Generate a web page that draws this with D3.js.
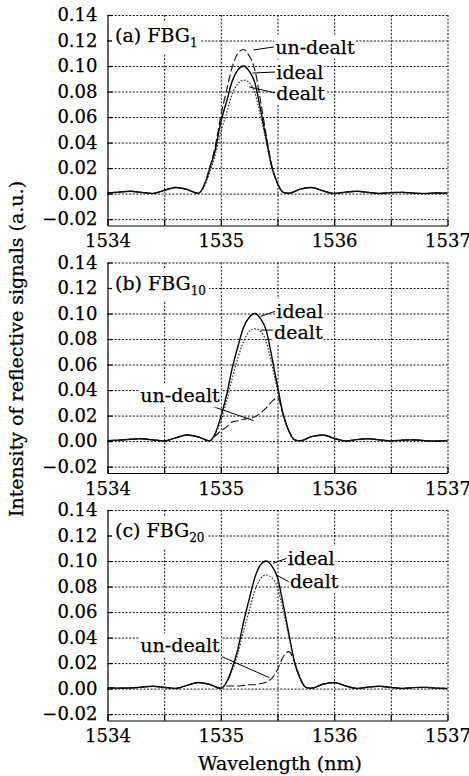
<!DOCTYPE html>
<html>
<head>
<meta charset="utf-8">
<script src="https://cdn.jsdelivr.net/npm/d3@7"></script>
<style>
  body { margin: 0; background: #fff; }
  svg { display: block; font-family: 'DejaVu Serif', serif; }
  svg text { stroke: #000; stroke-width: 0.25px; }
</style>
</head>
<body>
<svg id="chart"></svg>
<script>
const xLabelTicks = [1534, 1535, 1536, 1537];
const xGridTicks = [1534.5, 1535, 1535.5, 1536, 1536.5, 1537];
const yTickValues = [-0.02, 0, 0.02, 0.04, 0.06, 0.08, 0.10, 0.12, 0.14];

const panelNames = ['(a) FBG', '(b) FBG', '(c) FBG'];
const panelSubs = ['1', '10', '20'];

// (a) FBG1
const wlA = [1534.00, 1534.10, 1534.20, 1534.30, 1534.40, 1534.50, 1534.60, 1534.70, 1534.80, 1534.85,
  1534.90, 1534.95, 1535.00, 1535.05, 1535.10, 1535.15, 1535.20, 1535.25, 1535.30, 1535.35,
  1535.40, 1535.45, 1535.50, 1535.55, 1535.60, 1535.70, 1535.80, 1535.90, 1536.00, 1536.10,
  1536.20, 1536.30, 1536.40, 1536.50, 1536.60, 1536.70, 1536.80, 1536.90, 1537.00];
const idealA = [0.0005, 0.0012, 0.0018, 0.0010, 0.0001, 0.0025, 0.0048, 0.0033, 0.0002, 0.006,
  0.019, 0.034, 0.056, 0.072, 0.088, 0.097, 0.100, 0.096, 0.087, 0.066,
  0.043, 0.021, 0.008, 0.001, 0.0003, 0.0035, 0.0048, 0.0022, 0.0001, 0.0012,
  0.0018, 0.0010, 0.0001, 0.0008, 0.0010, 0.0004, 0.0001, 0.0005, 0.0004];
const undealtA = [0.0005, 0.0012, 0.0018, 0.0010, 0.0001, 0.0026, 0.0050, 0.0034, 0.0002, 0.006,
  0.020, 0.037, 0.061, 0.081, 0.099, 0.110, 0.113, 0.108, 0.097, 0.073,
  0.046, 0.022, 0.008, 0.001, 0.0003, 0.0036, 0.0050, 0.0022, 0.0001, 0.0012,
  0.0018, 0.0010, 0.0001, 0.0008, 0.0010, 0.0004, 0.0001, 0.0005, 0.0004];
const dealtA = [0.0005, 0.0012, 0.0018, 0.0010, 0.0001, 0.0024, 0.0046, 0.0032, 0.0002, 0.005,
  0.016, 0.030, 0.048, 0.063, 0.078, 0.086, 0.089, 0.087, 0.079, 0.061,
  0.041, 0.020, 0.008, 0.001, 0.0003, 0.0034, 0.0046, 0.0021, 0.0001, 0.0012,
  0.0017, 0.0010, 0.0001, 0.0008, 0.0010, 0.0004, 0.0001, 0.0005, 0.0004];

// (b) FBG10
const wlB = [1534.00, 1534.10, 1534.20, 1534.30, 1534.40, 1534.50, 1534.60, 1534.70, 1534.80, 1534.90,
  1534.95, 1535.00, 1535.05, 1535.10, 1535.15, 1535.20, 1535.25, 1535.30, 1535.35, 1535.40,
  1535.45, 1535.50, 1535.55, 1535.60, 1535.65, 1535.70, 1535.80, 1535.90, 1536.00, 1536.10,
  1536.20, 1536.30, 1536.40, 1536.50, 1536.60, 1536.70, 1536.80, 1536.90, 1537.00];
const idealB = [0.0004, 0.0008, 0.0014, 0.0018, 0.0010, 0.0001, 0.0025, 0.0048, 0.0033, 0.0002,
  0.006, 0.019, 0.036, 0.057, 0.074, 0.089, 0.097, 0.100, 0.096, 0.087,
  0.066, 0.043, 0.021, 0.008, 0.001, 0.0003, 0.0035, 0.0048, 0.0022, 0.0001,
  0.0012, 0.0018, 0.0010, 0.0001, 0.0008, 0.0010, 0.0004, 0.0001, 0.0005];
const undealtB = [0.0004, 0.0008, 0.0014, 0.0018, 0.0010, 0.0001, 0.0025, 0.0048, 0.0033, 0.0002,
  0.004, 0.008, 0.011, 0.015, 0.016, 0.017, 0.018, 0.019, 0.022, 0.026,
  0.031, 0.034, 0.021, 0.008, 0.001, 0.0003, 0.0035, 0.0048, 0.0022, 0.0001,
  0.0012, 0.0018, 0.0010, 0.0001, 0.0008, 0.0010, 0.0004, 0.0001, 0.0005];
const dealtB = [0.0004, 0.0008, 0.0014, 0.0017, 0.0010, 0.0001, 0.0024, 0.0046, 0.0032, 0.0002,
  0.005, 0.016, 0.031, 0.049, 0.065, 0.078, 0.086, 0.088, 0.086, 0.078,
  0.060, 0.040, 0.020, 0.008, 0.001, 0.0003, 0.0034, 0.0046, 0.0021, 0.0001,
  0.0012, 0.0017, 0.0010, 0.0001, 0.0008, 0.0010, 0.0004, 0.0001, 0.0005];

// (c) FBG20
const wlC = [1534.00, 1534.10, 1534.20, 1534.30, 1534.40, 1534.50, 1534.60, 1534.70, 1534.80, 1534.90,
  1535.00, 1535.05, 1535.10, 1535.15, 1535.20, 1535.25, 1535.30, 1535.35, 1535.40, 1535.45,
  1535.50, 1535.55, 1535.60, 1535.65, 1535.70, 1535.75, 1535.80, 1535.90, 1536.00, 1536.10,
  1536.20, 1536.30, 1536.40, 1536.50, 1536.60, 1536.70, 1536.80, 1536.90, 1537.00];
const idealC = [0.0008, 0.0004, 0.0005, 0.0012, 0.0018, 0.0010, 0.0001, 0.0025, 0.0048, 0.0033,
  0.0002, 0.005, 0.016, 0.031, 0.052, 0.070, 0.087, 0.097, 0.100, 0.096,
  0.087, 0.066, 0.043, 0.021, 0.008, 0.001, 0.0003, 0.0035, 0.0048, 0.0022,
  0.0001, 0.0012, 0.0018, 0.0010, 0.0001, 0.0008, 0.0010, 0.0004, 0.0001];
const undealtC = [0.0008, 0.0004, 0.0005, 0.0012, 0.0018, 0.0010, 0.0001, 0.0025, 0.0048, 0.0033,
  0.0002, 0.002, 0.002, 0.002, 0.0025, 0.003, 0.003, 0.004, 0.005, 0.008,
  0.015, 0.025, 0.029, 0.021, 0.008, 0.001, 0.0003, 0.0035, 0.0048, 0.0022,
  0.0001, 0.0012, 0.0018, 0.0010, 0.0001, 0.0008, 0.0010, 0.0004, 0.0001];
const dealtC = [0.0008, 0.0004, 0.0005, 0.0012, 0.0017, 0.0010, 0.0001, 0.0024, 0.0046, 0.0032,
  0.0002, 0.005, 0.014, 0.027, 0.045, 0.061, 0.077, 0.086, 0.089, 0.087,
  0.079, 0.061, 0.041, 0.020, 0.008, 0.001, 0.0003, 0.0034, 0.0046, 0.0021,
  0.0001, 0.0012, 0.0017, 0.0010, 0.0001, 0.0008, 0.0010, 0.0004, 0.0001];


const width = 469;
const height = 776;
const margin = { top: 15, right: 21.5, left: 107.5 };
const panelH = 210.5;
const panelStep = 247.5;
const tickFont = 18;
const labelFont = 19;

const svg = d3.select('#chart')
  .attr('width', width)
  .attr('height', height);

const x = d3.scaleLinear()
  .domain([1534, 1537])
  .range([margin.left, width - margin.right]);
const plotW = x.range()[1] - x.range()[0];

// series styles: solid = ideal, dotted = dealt, long dash = un-dealt
const styles = {
  ideal: { dash: null, width: 1.4, color: '#000' },
  dealt: { dash: '1.6,1.6', width: 1.1, color: '#222' },
  undealt: { dash: '8,3', width: 1.1, color: '#111' },
};

const panels = [
  {
    wl: wlA, ideal: idealA, dealt: dealtA, undealt: undealtA,
    notes: [
      { label: 'un-dealt', line: [[1535.29, 0.1126], [1535.47, 0.115]], at: [1535.48, 0.115], anchor: 'start' },
      { label: 'ideal', line: [[1535.28, 0.0945], [1535.48, 0.0953]], at: [1535.49, 0.0953], anchor: 'start' },
      { label: 'dealt', line: [[1535.25, 0.0836], [1535.48, 0.0789]], at: [1535.49, 0.0789], anchor: 'start' },
    ],
  },
  {
    wl: wlB, ideal: idealB, dealt: dealtB, undealt: undealtB,
    notes: [
      { label: 'ideal', line: [[1535.35, 0.0978], [1535.48, 0.1017]], at: [1535.49, 0.1017], anchor: 'start' },
      { label: 'dealt', line: [[1535.35, 0.087], [1535.46, 0.087]], at: [1535.47, 0.0855], anchor: 'start' },
      { label: 'un-dealt', line: [[1534.89, 0.0284], [1535.29, 0.016]], at: [1534.99, 0.0356], anchor: 'end' },
    ],
  },
  {
    wl: wlC, ideal: idealC, dealt: dealtC, undealt: undealtC,
    notes: [
      { label: 'ideal', line: [[1535.46, 0.0982], [1535.58, 0.1021]], at: [1535.59, 0.1021], anchor: 'start' },
      { label: 'dealt', line: [[1535.49, 0.089], [1535.60, 0.0838]], at: [1535.61, 0.0838], anchor: 'start' },
      { label: 'un-dealt', line: [[1535.01, 0.025], [1535.43, 0.0085]], at: [1534.99, 0.0336], anchor: 'end' },
    ],
  },
];

function whiteBehind(g, textSel, pad) {
  const b = textSel.node().getBBox();
  g.insert('rect', () => textSel.node())
    .attr('x', b.x - pad)
    .attr('y', b.y - pad)
    .attr('width', b.width + pad * 2)
    .attr('height', b.height + pad * 2)
    .attr('fill', '#fff');
}

panels.forEach((p, i) => {
  const top = margin.top + i * panelStep;
  const y = d3.scaleLinear()
    .domain([-0.025, 0.14])
    .range([top + panelH, top]);

  const g = svg.append('g');

  // dotted grid
  g.append('g')
    .attr('transform', `translate(${margin.left}, 0)`)
    .call(d3.axisRight(y).tickValues(yTickValues).tickSize(plotW).tickFormat(''))
    .call(s => s.select('.domain').remove())
    .selectAll('line')
      .attr('stroke', '#111')
      .attr('stroke-dasharray', '2,1.6');
  g.append('g')
    .attr('transform', `translate(0, ${top})`)
    .call(d3.axisBottom(x).tickValues(xGridTicks).tickSize(panelH).tickFormat(''))
    .call(s => s.select('.domain').remove())
    .selectAll('line')
      .attr('stroke', '#111')
      .attr('stroke-dasharray', '2,1.6');

  // clip
  const clipId = `clip-${i}`;
  g.append('clipPath').attr('id', clipId)
    .append('rect')
      .attr('x', margin.left).attr('y', top)
      .attr('width', plotW).attr('height', panelH);

  const lines = g.append('g').attr('clip-path', `url(#${clipId})`);
  ['ideal', 'dealt', 'undealt'].forEach(key => {
    const pts = p.wl.map((w, j) => [w, p[key][j]]);
    const st = styles[key];
    lines.append('path')
      .datum(pts)
      .attr('fill', 'none')
      .attr('stroke', st.color)
      .attr('stroke-width', st.width)
      .attr('stroke-dasharray', st.dash)
      .attr('d', d3.line()
        .x(d => x(d[0]))
        .y(d => y(d[1]))
        .curve(d3.curveMonotoneX));
  });

  // axes
  const yAxis = g.append('g')
    .attr('transform', `translate(${margin.left}, 0)`)
    .call(d3.axisLeft(y)
      .tickValues(yTickValues)
      .tickSizeInner(-5)
      .tickSizeOuter(0)
      .tickPadding(10)
      .tickFormat(d3.format('.2f')));
  const xAxis = g.append('g')
    .attr('transform', `translate(0, ${top + panelH})`)
    .call(d3.axisBottom(x)
      .tickValues([1534, 1534.5, 1535, 1535.5, 1536, 1536.5, 1537])
      .tickSizeInner(-6)
      .tickSizeOuter(0)
      .tickPadding(9)
      .tickFormat(d => xLabelTicks.includes(d) ? d : ''));
  [yAxis, xAxis].forEach(a => {
    a.attr('font-family', null).attr('font-size', tickFont);
    a.selectAll('text').attr('fill', '#000');
    a.selectAll('line, .domain').attr('stroke', '#000').attr('stroke-width', 1.2);
  });

  // panel title
  const title = g.append('text')
    .attr('x', margin.left + 7.5)
    .attr('y', top + 27)
    .attr('font-size', labelFont)
    .text(panelNames[i]);
  title.append('tspan')
    .attr('font-size', 12)
    .attr('dy', 5)
    .text(panelSubs[i]);
  whiteBehind(g, title, 3);

  // curve annotations
  p.notes.forEach(n => {
    g.append('line')
      .attr('x1', x(n.line[0][0])).attr('y1', y(n.line[0][1]))
      .attr('x2', x(n.line[1][0])).attr('y2', y(n.line[1][1]))
      .attr('stroke', '#000')
      .attr('stroke-width', 1);
    const t = g.append('text')
      .attr('x', x(n.at[0]))
      .attr('y', y(n.at[1]))
      .attr('dy', '0.35em')
      .attr('text-anchor', n.anchor)
      .attr('font-size', labelFont)
      .text(n.label);
    whiteBehind(g, t, 1);
  });
});

// axis titles
svg.append('text')
  .attr('transform', 'translate(23, 349) rotate(-90)')
  .attr('text-anchor', 'middle')
  .attr('font-size', labelFont)
  .text('Intensity of reflective signals (a.u.)');
svg.append('text')
  .attr('x', 280)
  .attr('y', 770)
  .attr('text-anchor', 'middle')
  .attr('font-size', labelFont)
  .text('Wavelength (nm)');
</script>
</body>
</html>
